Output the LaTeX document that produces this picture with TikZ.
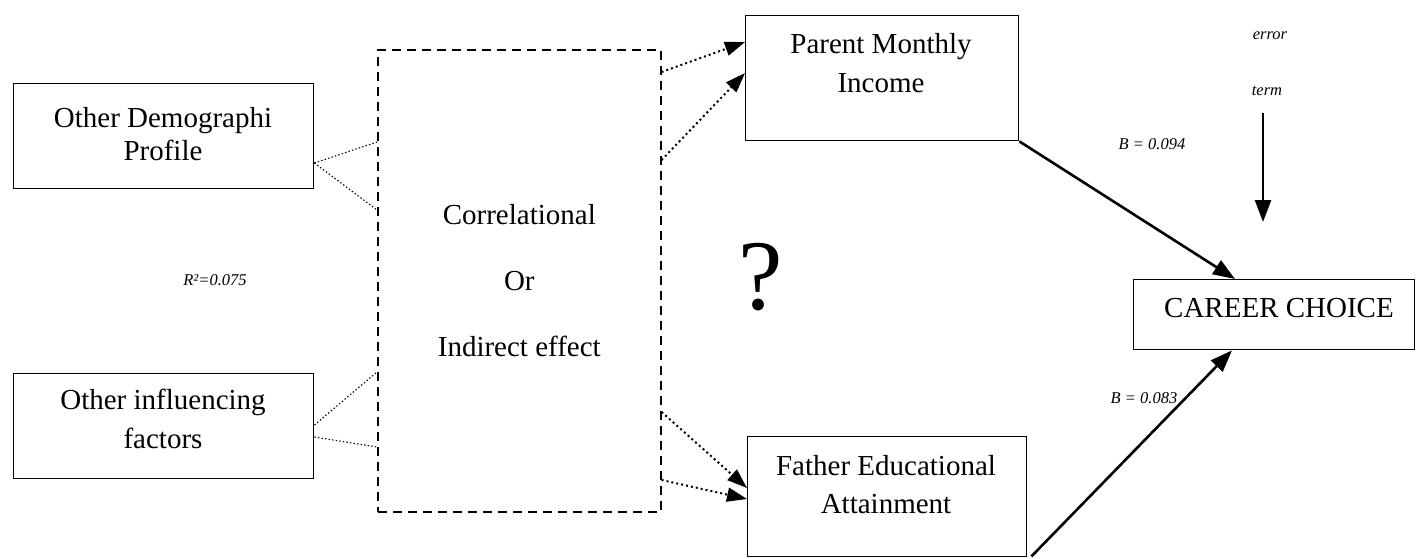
\documentclass[tikz,border=0pt]{standalone}
\usepackage{fontspec}
\setmainfont{Liberation Serif}
\usetikzlibrary{arrows.meta,calc}
\begin{document}
\begin{tikzpicture}[x=1pt,y=-1pt,
  box/.style={draw, line width=1.4pt, inner sep=0pt, anchor=north west},
  dashbox/.style={draw, line width=1.6pt, dash pattern=on 9pt off 6pt, inner sep=0pt, anchor=north west, align=center, font=\fontsize{29}{66}\selectfont},
  lbl/.style={align=center, anchor=base, inner sep=0pt},
  small/.style={font=\fontsize{16.5}{20}\selectfont\itshape, anchor=base, inner sep=0pt},
  dotl/.style={line width=1.1pt, dash pattern=on 1.4pt off 2.2pt},
  dotarr/.style={line width=2pt, dash pattern=on 2pt off 3pt, -{Triangle[length=20pt,width=14pt]}},
  solarr/.style={line width=2.6pt, -{Triangle[length=22pt,width=16pt]}}]
\useasboundingbox (0,0) rectangle (1416,558);

% boxes
\node[box, minimum width=300pt, minimum height=105pt] (demo) at (13,83) {};
\node[box, minimum width=300pt, minimum height=105pt] (infl) at (13,373) {};
\node[dashbox, minimum width=283pt, minimum height=462pt] (dash) at (377,49)
  {\rule{0pt}{4pt}Correlational\\Or\\Indirect effect};
\node[box, minimum width=273pt, minimum height=125pt] (pmi) at (745,15) {};
\node[box, minimum width=279pt, minimum height=120pt] (fea) at (747,436) {};
\node[box, minimum width=281pt, minimum height=70pt] (cc) at (1133,279) {};

% box texts (base anchor = last line baseline)
\node[lbl, font=\fontsize{29}{33}\selectfont] (demot) at (163,160) {Other Demographi\\Profile};
\node[lbl, font=\fontsize{29}{39}\selectfont] (inflt) at (163,448) {Other influencing\\factors};
\node[lbl, font=\fontsize{29}{39}\selectfont] (pmit) at (881,92) {Parent Monthly\\Income};
\node[lbl, font=\fontsize{29}{38}\selectfont] (feat) at (886,513) {Father Educational\\Attainment};
\node[lbl, font=\fontsize{29}{38}\selectfont] (cct) at (1279,317) {CAREER CHOICE};

% small labels
\node[small] (err) at (1270,39) {error};
\node[small] (term) at (1267,95) {term};
\node[small] (b1) at (1152,149) {B = 0.094};
\node[small] (r2) at (215,285) {R²=0.075};
\node[small] (b2) at (1144,403) {B = 0.083};
\node[lbl, font=\fontsize{100}{100}\selectfont] (q) at (761,309) {?};

% dotted connectors (left)
\draw[dotl] ($(demo.north east)+(0,80)$) -- ($(dash.north west)+(0,93)$);
\draw[dotl] ($(demo.north east)+(0,80)$) -- ($(dash.north west)+(0,161)$);
\draw[dotl] ($(infl.north east)+(0,52)$) -- ($(dash.north west)+(0,323)$);
\draw[dotl] ($(infl.north east)+(0,64)$) -- ($(dash.north west)+(0,398)$);

% dotted arrows (right)
\draw[dotarr] ($(dash.north east)+(0,23)$) -- ($(pmi.north west)+(0,27)$);
\draw[dotarr] ($(dash.north east)+(0,111)$) -- ($(pmi.north west)+(0,58)$);
\draw[dotarr] ($(dash.north east)+(0,363)$) -- ($(fea.north west)+(0,52)$);
\draw[dotarr] ($(dash.north east)+(0,431)$) -- ($(fea.north west)+(0,63)$);

% solid arrows
\draw[solarr] (pmi.south east) -- ($(cc.north west)+(102,0)$);
\draw[solarr] ($(fea.south east)+(4,-1)$) -- ($(cc.south west)+(99,0)$);
\coordinate (e1) at (1263,113);
\coordinate (e2) at (1263,222);
\draw[solarr] (e1) -- (e2);
\end{tikzpicture}
\end{document}
